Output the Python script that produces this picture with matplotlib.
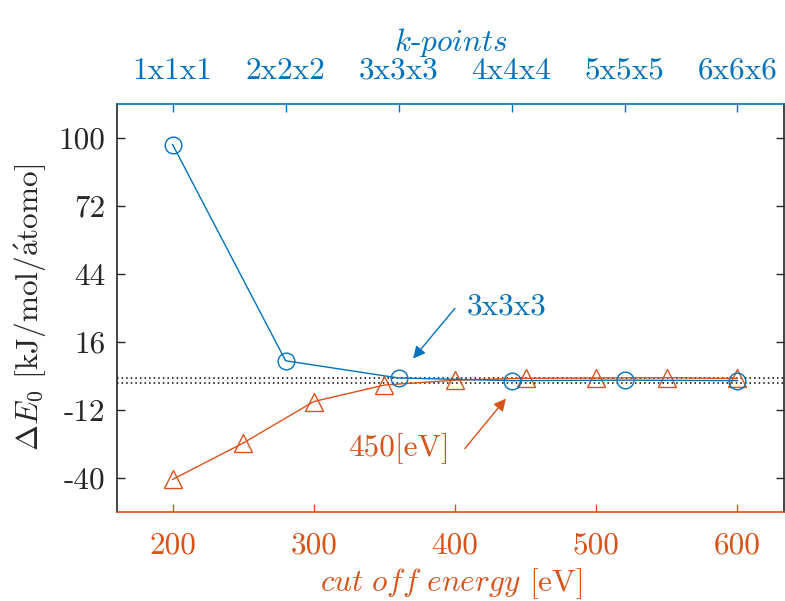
import matplotlib
matplotlib.use("Agg")
import matplotlib.pyplot as plt

# data
cutoff_ev = [200, 250, 300, 350, 400, 450, 500, 550, 600]
cutoff_de = [-40.7, -25.7, -8.6, -1.8, 0.2, 1.0, 1.1, 1.2, 0.9]

kpt_pos = [200, 280, 360, 440, 520, 600]
kpt_labels = ['1x1x1', '2x2x2', '3x3x3', '4x4x4', '5x5x5', '6x6x6']
kpt_de = [97.3, 8.2, 1.1, 0.0, 0.2, 0.0]

ytick_vals = [-40, -12, 16, 44, 72, 100]
ytick_labels = ['-40', '-12', '16', '44', '72', '100']
xtick_vals = [200, 300, 400, 500, 600]
tolerance = [1, -1]

BLUE = '#0072BD'
ORANGE = '#D95319'
DARK = '#262626'

plt.rcParams['font.family'] = ['cmr10', 'DejaVu Serif']
plt.rcParams['mathtext.fontset'] = 'cm'
plt.rcParams['axes.unicode_minus'] = False
plt.rcParams['font.size'] = 22.5

fig = plt.figure(figsize=(7.85, 6.01), dpi=100)
ax = fig.add_axes([116.7 / 785, 89.3 / 601, 667.8 / 785, 407.7 / 601])

xlim = (160.4, 633.3)
ax.set_xlim(xlim)
ax.set_ylim(-54, 114)

for yv in tolerance:
    ax.axhline(yv, color='black', linestyle=(0, (1, 2.0)), linewidth=1.1, zorder=1)

ax.plot(cutoff_ev, cutoff_de, '-^', color=ORANGE, linewidth=1.0,
        markersize=13, markerfacecolor='none', markeredgewidth=1.0, zorder=3)
ax.plot(kpt_pos, kpt_de, '-o', color=BLUE, linewidth=1.0,
        markersize=12, markerfacecolor='none', markeredgewidth=1.0, zorder=4)

ax.set_xticks(xtick_vals)
ax.set_xticklabels([str(v) for v in xtick_vals])
ax.set_yticks(ytick_vals)
ax.set_yticklabels(ytick_labels)

ax.tick_params(axis='x', direction='in', length=6, width=1, colors=ORANGE, pad=14, top=False)
ax.tick_params(axis='y', direction='in', length=6, width=1, colors=DARK, pad=8,
               left=True, right=True)
ax.spines['bottom'].set_color(ORANGE)
ax.spines['top'].set_visible(False)
for s in ['left', 'right']:
    ax.spines[s].set_color(DARK)
for s in ax.spines.values():
    s.set_linewidth(1.2)

ax.set_xlabel(r'$\mathit{cut\ off\ energy}$ [eV]', color=ORANGE, labelpad=5)
ax.set_ylabel(r'$\Delta E_0$ [kJ/mol/$\acute{\mathrm{a}}$tomo]', color=DARK, labelpad=8)

# top axis with k-points
ax2 = ax.twiny()
ax2.set_xlim(xlim)
ax2.set_xticks(kpt_pos)
ax2.set_xticklabels(kpt_labels)
ax2.tick_params(axis='x', direction='in', length=6, width=1, colors=BLUE, pad=14)
ax2.spines['top'].set_color(BLUE)
ax2.spines['top'].set_linewidth(1.2)
for s in ['left', 'right', 'bottom']:
    ax2.spines[s].set_visible(False)
ax2.set_xlabel(r'$\mathit{k}$-$\mathit{points}$', color=BLUE, labelpad=4)

# annotations
ax.annotate('', xy=(370.3, 9.1), xytext=(399.9, 29.8),
            arrowprops=dict(arrowstyle='-|>', color=BLUE, lw=1.0, mutation_scale=18,
                            shrinkA=0, shrinkB=0))
ax.text(408, 30.4, '3x3x3', color=BLUE, ha='left', va='center')

ax.annotate('', xy=(436, -7.4), xytext=(406.9, -28),
            arrowprops=dict(arrowstyle='-|>', color=ORANGE, lw=1.0, mutation_scale=18,
                            shrinkA=0, shrinkB=0))
ax.text(396.3, -28, '450[eV]', color=ORANGE, ha='right', va='center')

fig.savefig('out.png', dpi=100)
